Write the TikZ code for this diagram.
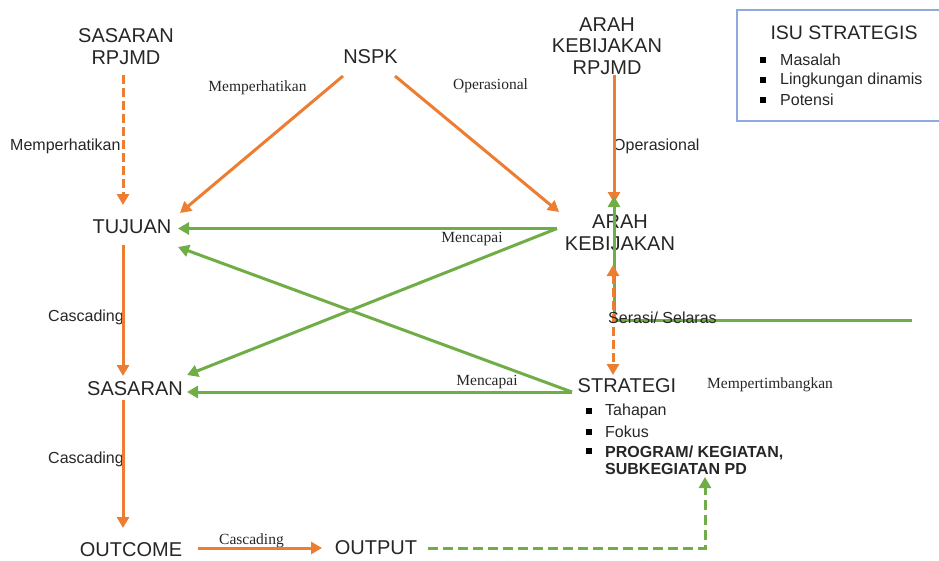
\documentclass[tikz,border=0pt]{standalone}
\usepackage{fontspec}
\setmainfont{Liberation Sans}
\newfontfamily\serifont{Liberation Serif}
\usetikzlibrary{arrows.meta,calc}
\definecolor{ora}{HTML}{ED7D31}
\definecolor{grn}{HTML}{70AD47}
\definecolor{boxblue}{HTML}{8FAADC}
\begin{document}
\begin{tikzpicture}[x=1pt,y=-1pt,
  main/.style={font=\fontsize{20}{21.5}\selectfont, align=center, inner sep=0pt, text=black!85},
  lab/.style={font=\fontsize{16}{17}\selectfont, inner sep=0pt, text=black!85},
  slab/.style={font=\serifont\fontsize{15.5}{17}\selectfont, inner sep=0pt, text=black!85},
  item/.style={font=\fontsize{16}{17}\selectfont, inner sep=0pt, anchor=west, text=black!85},
  sq/.style={fill=black, inner sep=0pt, minimum size=6pt},
  oline/.style={draw=ora, line width=3pt},
  gline/.style={draw=grn, line width=3pt},
  tip/.style={-{Triangle[length=11pt,width=12pt]}},
  odash/.style={dash pattern=on 9pt off 4pt},
  gdash/.style={dash pattern=on 10pt off 5pt},
]
\useasboundingbox (0,0) rectangle (939,560);

% main nodes
\node[main] (sr) at (126,46.5) {SASARAN\\RPJMD};
\node[main] (nspk) at (370.5,57) {NSPK};
\node[main] (akr) at (607,46) {ARAH\\KEBIJAKAN\\RPJMD};
\node[main] (tujuan) at (132,227) {TUJUAN};
\node[main] (ak) at (620,232.5) {ARAH\\KEBIJAKAN};
\node[main] (sasaran) at (135,389) {SASARAN};
\node[main] (strategi) at (627,386) {STRATEGI};
\node[main] (outcome) at (131,550) {OUTCOME};
\node[main] (output) at (376,548) {OUTPUT};

% ISU STRATEGIS box
\draw[boxblue, line width=1.5pt] (939,10) -- (737,10) -- (737,121) -- (939,121);
\node[font=\fontsize{19.5}{21}\selectfont, inner sep=0pt, text=black!85] (isu) at (844,33) {ISU STRATEGIS};
\node[sq] (b1) at (763,60) {};
\node[item] (i1) at (780,60) {Masalah};
\node[sq] (b2) at (763,80) {};
\node[item] (i2) at (780,80) {Lingkungan dinamis};
\node[sq] (b3) at (763,100) {};
\node[item] (i3) at (780,100) {Potensi};

% strategi items
\node[sq] (s1) at (589,411) {};
\node[item] (t1) at (605,411) {Tahapan};
\node[sq] (s2) at (589,432) {};
\node[item] (t2) at (605,432) {Fokus};
\node[sq] (s3) at (589,451) {};
\node[item, anchor=north west, align=left, font=\bfseries\fontsize{16}{17}\selectfont] (prog) at (605,446) {PROGRAM/ KEGIATAN,\\SUBKEGIATAN PD};

% labels
\node[lab, anchor=west] (l1) at (10,146) {Memperhatikan};
\node[slab] (l2) at (257.5,88) {Memperhatikan};
\node[slab] (l3) at (490.5,86) {Operasional};
\node[lab, anchor=west] (l4) at (613,146) {Operasional};
\node[slab] (l5) at (472,239) {Mencapai};
\node[slab] (l6) at (487,382) {Mencapai};
\node[lab, anchor=west] (l7) at (48,317) {Cascading};
\node[lab, anchor=west] (l8) at (48,459) {Cascading};
\node[slab] (l9) at (251.5,541) {Cascading};
\node[slab, anchor=west] (l11) at (707,385) {Mempertimbangkan};

% orange connectors
\draw[oline, odash, tip] ($(sr)+(-3,28.5)$) -- ($(tujuan)+(-9,-22)$);
\draw[oline, tip] ($(nspk)+(-27.5,19)$) -- ($(tujuan)+(48,-14)$);
\draw[oline, tip] ($(nspk)+(24.5,19)$) -- ($(ak)+(-61,-20.5)$);
\draw[oline, tip] ($(akr)+(7,29)$) -- ($(ak)+(-6,-29.5)$);
\draw[oline, tip] ($(tujuan)+(-9,18)$) -- ($(sasaran)+(-12,-13)$);
\draw[oline, tip] ($(sasaran)+(-12,11)$) -- ($(outcome)+(-8,-22)$);
\draw[oline, tip] ($(outcome)+(67,-2)$) -- ($(output)+(-54,0)$);

% green connectors
\draw[gline, tip] ($(ak)+(-63,-4)$) -- ($(tujuan)+(46,1.5)$);
\draw[gline, tip] ($(ak)+(-63,-4)$) -- ($(sasaran)+(52,-14)$);
\draw[gline, tip] ($(strategi)+(-55,6)$) -- ($(tujuan)+(46,20)$);
\draw[gline, tip] ($(strategi)+(-55,6)$) -- ($(sasaran)+(52,3)$);
\coordinate (serasiend) at (912,320.5);
\draw[gline, tip] (serasiend) -| ($(ak)+(-6,-36.5)$);
\draw[gline, gdash, tip] ($(output)+(52,0)$) -| ($(prog.north west)+(100,31)$);

% orange dashed double arrow
\draw[oline, odash, {Triangle[length=11pt,width=12pt]}-{Triangle[length=11pt,width=12pt]}] ($(ak)+(-7,32.5)$) -- ($(strategi)+(-14,-11)$);

\node[lab, anchor=west] (l10) at (608,318) {Serasi/ Selaras};
\end{tikzpicture}
\end{document}
